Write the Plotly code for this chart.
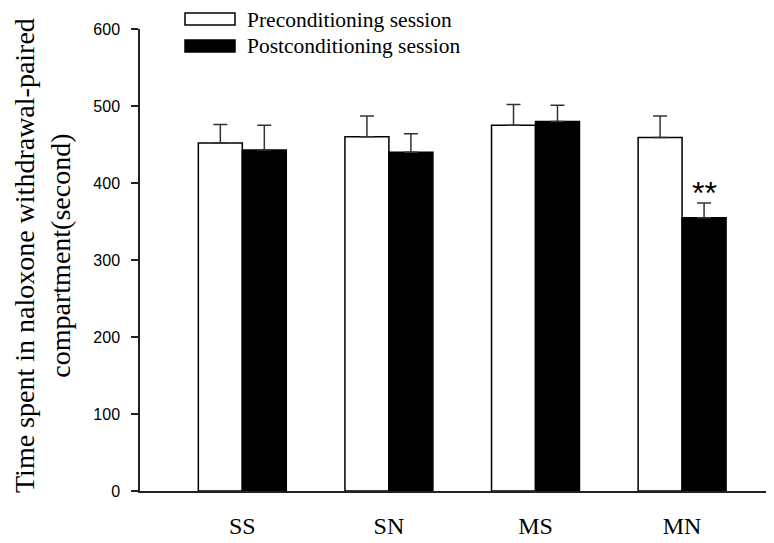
import plotly.graph_objects as go

groups = ["SS", "SN", "MS", "MN"]
pre_vals = [452, 460, 475, 459]
pre_err = [24, 27, 27, 28]
post_vals = [443, 440, 480, 355]
post_err = [32, 24, 21, 19]
series_names = ["Preconditioning session", "Postconditioning session"]
y_ticks = [0, 100, 200, 300, 400, 500, 600]

# page body adds an 8px margin; compensate
OFF = 8
W, H = 774 - OFF, 543 - OFF
ML, MR, MT, MB = 140 - OFF, 0, 29 - OFF, 52
PW, PH = W - ML - MR, H - MT - MB

def px(x):
    return (x - OFF - ML) / PW

def py(y):
    return (H - MB - (y - OFF)) / PH

serif = "Liberation Serif, Times New Roman, serif"
sans = "Liberation Sans, Arial, sans-serif"

fig = go.Figure()
fig.add_trace(go.Bar(
    x=groups, y=pre_vals, name=series_names[0],
    marker=dict(color="white", line=dict(color="black", width=1.5)),
    error_y=dict(type="data", array=pre_err, symmetric=False,
                 arrayminus=[0] * len(pre_err), color="#333333",
                 thickness=1.5, width=7),
    showlegend=False,
))
fig.add_trace(go.Bar(
    x=groups, y=post_vals, name=series_names[1],
    marker=dict(color="black", line=dict(color="black", width=1.5)),
    error_y=dict(type="data", array=post_err, symmetric=False,
                 arrayminus=[0] * len(post_err), color="#333333",
                 thickness=1.5, width=7),
    showlegend=False,
))

# manual legend
shapes = [
    dict(type="rect", xref="paper", yref="paper",
         x0=px(185), x1=px(235), y0=py(25), y1=py(13),
         line=dict(color="black", width=1.5), fillcolor="white"),
    dict(type="rect", xref="paper", yref="paper",
         x0=px(185), x1=px(235), y0=py(52), y1=py(40),
         line=dict(color="black", width=1.5), fillcolor="black"),
]
annotations = [
    dict(text=series_names[0], xref="paper", yref="paper", x=px(245), y=py(20),
         xanchor="left", yanchor="middle", showarrow=False,
         font=dict(family=serif, size=21.5, color="black")),
    dict(text=series_names[1], xref="paper", yref="paper", x=px(245), y=py(46),
         xanchor="left", yanchor="middle", showarrow=False,
         font=dict(family=serif, size=21.5, color="black")),
    dict(text="Time spent in naloxone withdrawal-paired<br>compartment(second)",
         xref="paper", yref="paper", x=px(43), y=py(256),
         xanchor="center", yanchor="middle", textangle=-90, showarrow=False,
         font=dict(family=serif, size=28, color="black")),
    dict(text="**", x=3.15, y=post_vals[3] + post_err[3], xref="x", yref="y",
         xanchor="center", yanchor="bottom", yshift=-10, showarrow=False,
         font=dict(family=sans, size=32, color="black")),
]

fig.update_layout(
    width=W, height=H,
    margin=dict(l=ML, r=MR, t=MT, b=MB),
    paper_bgcolor="white", plot_bgcolor="white",
    barmode="group", bargap=0.4, bargroupgap=0,
    shapes=shapes, annotations=annotations,
    xaxis=dict(range=[-0.698, 3.627], showline=True,
               linecolor="#222222", linewidth=1.5, ticks="", showgrid=False,
               zeroline=False,
               tickfont=dict(family=serif, size=24, color="black"),
               ticklabelstandoff=12),
    yaxis=dict(range=[0, 600], tickvals=y_ticks, showline=True,
               linecolor="#222222", linewidth=1.5, ticks="outside",
               ticklen=7, tickwidth=1.5, tickcolor="#222222",
               showgrid=False, zeroline=False,
               tickfont=dict(family=sans, size=16, color="black"),
               ticklabelstandoff=8),
)

fig.write_html("out.html")
